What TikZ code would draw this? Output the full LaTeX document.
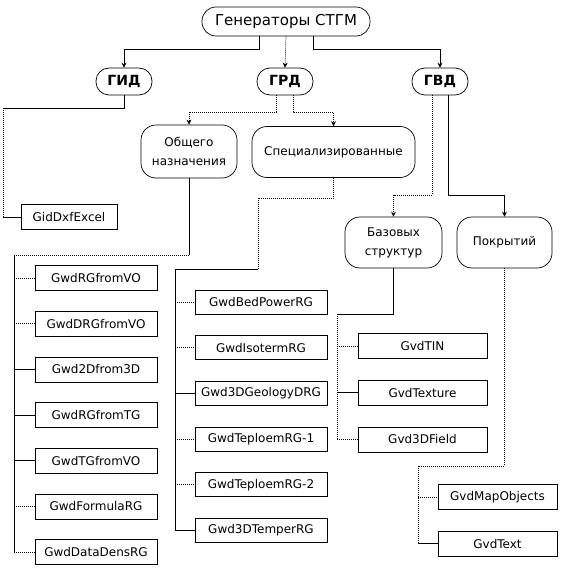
\documentclass[tikz,border=0pt]{standalone}
\usepackage{fontspec}
\setmainfont{DejaVu Sans}
\usepackage{tikz}
\usetikzlibrary{
  positioning,
  arrows.meta
}

\begin{document}
\begin{tikzpicture}[
  x=1pt, y=-1pt,
  >={Stealth[length=5pt,width=5pt]},
  pill/.style={
    rectangle, rounded corners=13pt, draw, line width=0.7pt,
    minimum height=27pt, inner sep=1pt, align=center,
    font=\fontsize{12}{19}\selectfont
  },
  leaf/.style={
    rectangle, draw, line width=0.7pt, minimum height=25pt, inner sep=1pt,
    font=\fontsize{12}{14}\selectfont
  },
  wire/.style={line width=0.7pt},
  dotwire/.style={line width=0.7pt, dash pattern=on 1pt off 1pt}
]
\useasboundingbox (0,0) rectangle (572,567);

% top levels
\node[pill, minimum width=168pt, minimum height=29pt, rounded corners=14pt,
  font=\fontsize{15}{17}\selectfont] (root) at (286,21.5) {Генераторы СТГМ};
\node[pill, minimum width=56pt, font=\bfseries\fontsize{14}{16}\selectfont] (gid) at (124,81.5) {ГИД};
\node[pill, minimum width=56pt, font=\bfseries\fontsize{14}{16}\selectfont] (grd) at (285,81.5) {ГРД};
\node[pill, minimum width=56pt, font=\bfseries\fontsize{14}{16}\selectfont] (gvd) at (440,81.5) {ГВД};

\node[pill, minimum width=96pt, minimum height=53pt, rounded corners=15pt] (gen) at (189,151.5) {Общего\\назначения};
\node[pill, minimum width=163pt, minimum height=51pt, rounded corners=15pt] (spec) at (333.5,152) {Специализированные};
\node[pill, minimum width=97pt, minimum height=51pt, rounded corners=15pt] (baz) at (393.5,242.5) {Базовых\\структур};
\node[pill, minimum width=95pt, minimum height=51pt, rounded corners=15pt] (pok) at (504.5,242.5) {Покрытий};

% leaves
\node[leaf, minimum width=96pt] (excel) at (69,217) {GidDxfExcel};

\node[leaf, minimum width=122pt] (g1) at (96,278) {GwdRGfromVO};
\node[leaf, minimum width=122pt, below=20pt of g1] (g2) {GwdDRGfromVO};
\node[leaf, minimum width=122pt, below=20pt of g2] (g3) {Gwd2Dfrom3D};
\node[leaf, minimum width=122pt, below=20pt of g3] (g4) {GwdRGfromTG};
\node[leaf, minimum width=122pt, below=20pt of g4] (g5) {GwdTGfromVO};
\node[leaf, minimum width=122pt, below=20pt of g5] (g6) {GwdFormulaRG};
\node[leaf, minimum width=122pt, below=20pt of g6] (g7) {GwdDataDensRG};

\node[leaf, minimum width=132pt, minimum height=24pt] (sp1) at (261,302) {GwdBedPowerRG};
\node[leaf, minimum width=132pt, minimum height=24pt, below=21pt of sp1] (sp2) {GwdIsotermRG};
\node[leaf, minimum width=132pt, minimum height=24pt, below=21pt of sp2] (sp3) {Gwd3DGeologyDRG};
\node[leaf, minimum width=132pt, minimum height=24pt, below=21pt of sp3] (sp4) {GwdTeploemRG-1};
\node[leaf, minimum width=132pt, minimum height=24pt, below=21pt of sp4] (sp5) {GwdTeploemRG-2};
\node[leaf, minimum width=132pt, minimum height=24pt, below=21pt of sp5] (sp6) {Gwd3DTemperRG};

\node[leaf, minimum width=129pt] (bz1) at (422.5,346) {GvdTIN};
\node[leaf, minimum width=129pt, below=21pt of bz1] (bz2) {GvdTexture};
\node[leaf, minimum width=129pt, below=21pt of bz2] (bz3) {Gvd3DField};

\node[leaf, minimum width=119pt] (pk1) at (497.5,497) {GvdMapObjects};
\node[leaf, minimum width=119pt, below=21pt of pk1] (pk2) {GvdText};

% bus corners
\coordinate (xbus) at (3,108);
\coordinate (gbus) at (14,255);
\coordinate (sknee) at (258,198);
\coordinate (sbus) at (175,269);
\coordinate (bbus) at (337,314);
\coordinate (pbus) at (418,466);

% root
\draw[->, wire] ([xshift=-27pt]root.south) -- ++(0,13) -| (gid.north);
\draw[->, dotwire] (root.south) -- (grd.north);
\draw[->, wire] ([xshift=27pt]root.south) -- ++(0,13) -| (gvd.north);

% second level
\draw[wire] (gid.south) |- (xbus);
\draw[dotwire] (xbus) -- (xbus |- excel.west);
\draw[wire] (xbus |- excel.west) -- (excel.west);

\draw[->, dotwire] ([xshift=-9pt]grd.south) -- ++(0,17) -| (gen.north);
\draw[->, dotwire] ([xshift=8pt]grd.south) -- ++(0,17) -| (spec.north);

\draw[->, dotwire] ([xshift=-8pt]gvd.south) -- ++(0,100) -| (baz.north);
\draw[->, wire] ([xshift=8pt]gvd.south) -- ++(0,100) -| (pok.north);

% general purpose
\draw[wire] (gen.south) -- (gen.south |- gbus);
\draw[dotwire] (gen.south |- gbus) -- (gbus);
\draw[wire] (gbus) -- (gbus |- g7.west);
\draw[dotwire] (gbus |- g1.west) -- (g1.west);
\draw[dotwire] (gbus |- g2.west) -- (g2.west);
\draw[wire] (gbus |- g3.west) -- (g3.west);
\draw[wire] (gbus |- g4.west) -- (g4.west);
\draw[wire] (gbus |- g5.west) -- (g5.west);
\draw[dotwire] (gbus |- g6.west) -- (g6.west);
\draw[dotwire] (gbus |- g7.west) -- (g7.west);

% specialized
\draw[dotwire] (spec.south) |- (sknee) -- (sknee |- sbus);
\draw[wire] (sknee |- sbus) -- (sbus) -- (sbus |- sp6.west);
\draw[dotwire] (sbus |- sp1.west) -- (sp1.west);
\draw[dotwire] (sbus |- sp2.west) -- (sp2.west);
\draw[wire] (sbus |- sp3.west) -- (sp3.west);
\draw[dotwire] (sbus |- sp4.west) -- (sp4.west);
\draw[dotwire] (sbus |- sp5.west) -- (sp5.west);
\draw[wire] (sbus |- sp6.west) -- (sp6.west);

% base structures
\draw[wire] (baz.south) |- (bbus);
\draw[dotwire] (bbus) -- (bbus |- bz3.west);
\draw[dotwire] (bbus |- bz1.west) -- (bz1.west);
\draw[wire] (bbus |- bz2.west) -- (bz2.west);
\draw[dotwire] (bbus |- bz3.west) -- (bz3.west);

% coverages
\draw[dotwire] (pok.south) |- (pbus) -- (pbus |- pk2.west);
\draw[dotwire] (pbus |- pk1.west) -- (pk1.west);
\draw[wire] (pbus |- pk2.west) -- (pk2.west);

\end{tikzpicture}
\end{document}
